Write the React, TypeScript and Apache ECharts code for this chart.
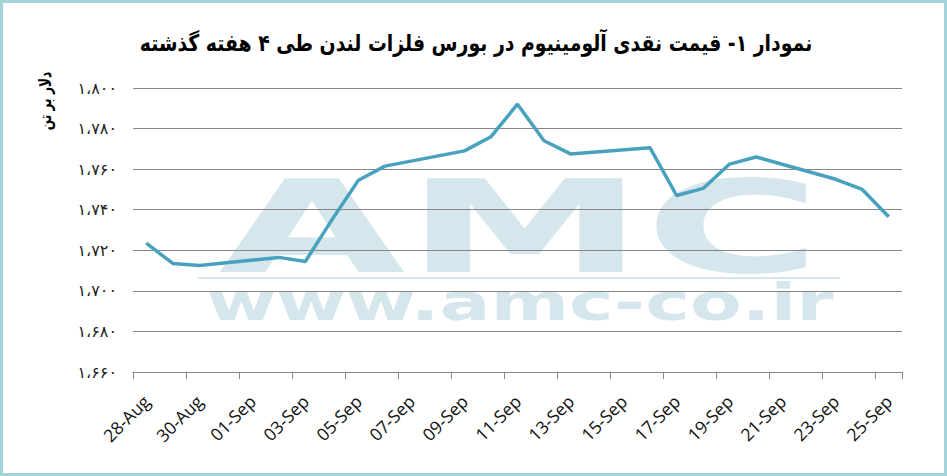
import React, { useEffect, useRef } from 'react';
import * as echarts from 'echarts';

const titleText = 'نمودار ۱- قیمت نقدی آلومینیوم در بورس فلزات لندن طی ۴ هفته گذشته';
const yAxisTitle = 'دلار بر تن';

const categories = [
  '28-Aug', '29-Aug', '30-Aug', '31-Aug', '01-Sep', '02-Sep', '03-Sep', '04-Sep',
  '05-Sep', '06-Sep', '07-Sep', '08-Sep', '09-Sep', '10-Sep', '11-Sep', '12-Sep',
  '13-Sep', '14-Sep', '15-Sep', '16-Sep', '17-Sep', '18-Sep', '19-Sep', '20-Sep',
  '21-Sep', '22-Sep', '23-Sep', '24-Sep', '25-Sep',
];

// null = no trading day (weekend); the line is joined across it
const prices: (number | null)[] = [
  1723.5, 1713.5, 1712.5, null, null, 1716.5, 1714.5, 1735,
  1754.5, 1761.5, null, null, 1769, 1776, 1792, 1774,
  1767.5, null, null, 1770.5, 1747, 1750.5, 1762.5, 1766,
  null, null, 1755, 1750, 1736.5,
];

const yTickValues = [1660, 1680, 1700, 1720, 1740, 1760, 1780, 1800];
const yTickLabels = ['۱،۶۶۰', '۱،۶۸۰', '۱،۷۰۰', '۱،۷۲۰', '۱،۷۴۰', '۱،۷۶۰', '۱،۷۸۰', '۱،۸۰۰'];

const watermarkBig = 'AMC';
const watermarkUrl = 'www.amc-co.ir';

export default function App() {
  const ref = useRef<HTMLDivElement>(null);
  useEffect(() => {
    const chart = echarts.init(ref.current!, null, { renderer: 'svg' });
    const wm = '#d5e6ec';
    chart.setOption({
      animation: false,
      backgroundColor: '#ffffff',
      grid: { left: 133, right: 45, top: 88, bottom: 104, containLabel: false },
      xAxis: {
        type: 'category',
        data: categories,
        boundaryGap: true,
        axisLine: { show: true, lineStyle: { color: '#868686', width: 1 } },
        axisTick: { show: true, interval: 1, alignWithLabel: false, length: 7, lineStyle: { color: '#868686' } },
        axisLabel: {
          interval: 1,
          rotate: 45,
          margin: 26,
          color: '#111',
          fontSize: 17.5,
          fontFamily: 'Open Sans',
        },
        splitLine: { show: false },
      },
      yAxis: {
        type: 'value',
        min: yTickValues[0],
        max: yTickValues[yTickValues.length - 1],
        interval: 20,
        axisLine: { show: false },
        axisTick: { show: false },
        splitLine: { show: true, lineStyle: { color: '#868686', width: 1 } },
        axisLabel: {
          margin: 16,
          color: '#222',
          fontSize: 16,
          fontFamily: 'DejaVu Sans',
          formatter: (v: number) => {
            const i = yTickValues.indexOf(v);
            return i >= 0 ? yTickLabels[i] : '';
          },
        },
      },
      graphic: [
        {
          type: 'text', z: -10, x: 520, y: 228, scaleX: 1.88,
          style: { text: watermarkBig, fill: wm, fontSize: 128, fontWeight: 'bold', fontFamily: 'DejaVu Sans', align: 'center', verticalAlign: 'middle' },
        },
        {
          type: 'line', z: -10,
          shape: { x1: 198, y1: 278, x2: 840, y2: 278 },
          style: { stroke: wm, lineWidth: 2 },
        },
        {
          type: 'text', z: -10, x: 520, y: 302, scaleX: 1.48,
          style: { text: watermarkUrl, fill: wm, fontSize: 51, fontWeight: 'bold', fontFamily: 'DejaVu Sans', align: 'center', verticalAlign: 'middle' },
        },
        {
          type: 'text', x: 476, y: 43, scaleX: 0.82,
          style: { text: titleText, fill: '#000', fontSize: 23, fontWeight: 'bold', fontFamily: 'DejaVu Sans', align: 'center', verticalAlign: 'middle' },
        },
        {
          type: 'text', x: 45, y: 101, rotation: Math.PI / 2, scaleX: 0.72,
          style: { text: yAxisTitle, fill: '#000', fontSize: 17, fontWeight: 'bold', fontFamily: 'DejaVu Sans', align: 'center', verticalAlign: 'middle' },
        },
        {
          type: 'rect', z: 100,
          shape: { x: 1.5, y: 1.5, width: 944, height: 473 },
          style: { fill: 'none', stroke: '#a3d2dd', lineWidth: 3 },
        },
      ],
      series: [
        {
          type: 'line',
          data: prices,
          connectNulls: true,
          symbol: 'none',
          lineStyle: { color: '#48a2bd', width: 3.5 },
          z: 5,
        },
      ],
    });
    return () => chart.dispose();
  }, []);
  return (
    <div
      ref={ref}
      style={{ position: 'fixed', left: 0, top: 0, width: 947, height: 476, background: '#fff' }}
    />
  );
}
